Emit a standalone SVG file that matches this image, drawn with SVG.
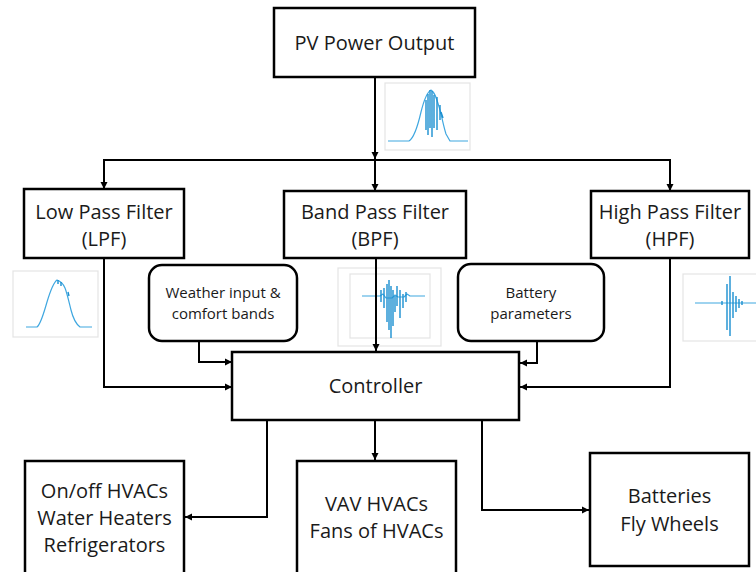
<svg xmlns="http://www.w3.org/2000/svg" width="756" height="572" viewBox="0 0 756 572">
<defs>
<marker id="ah" markerWidth="8" markerHeight="8" refX="7" refY="4" orient="auto" markerUnits="userSpaceOnUse">
<path d="M0,0.5 L7,4 L0,7.5 Z" fill="#000"/>
</marker>
<style>
.box{fill:#fff;stroke:#000;stroke-width:2.5}
.t{font-family:"Open Sans","Noto Sans","Liberation Sans",sans-serif;font-size:20px;fill:#1a1a1a;text-anchor:middle}
.s{font-family:"Open Sans","Noto Sans","Liberation Sans",sans-serif;font-size:15px;fill:#1a1a1a;text-anchor:middle}
.c{fill:none;stroke:#000;stroke-width:2;marker-end:url(#ah)}
.fr{fill:#fff;stroke:#e4e4e4;stroke-width:1.2}
.w{fill:none;stroke:#3fa7e0;stroke-width:1.2;stroke-linejoin:round}
.wd{fill:none;stroke:#1a8fd0;stroke-width:1.4}
</style>
</defs>
<rect width="756" height="572" fill="#fff"/>

<g id="pv-plot">
<rect class="fr" x="385" y="83" width="85" height="67"/>
<path class="w" d="M388,141 H409 C414,138 418,125 421,112 C424,100 427,92 431,90 C435,92 437,100 440,110 C442,118 444,128 446,134 L450,141 H468"/>
<path class="wd" d="M426,100 V130 M428,94 V135 M430,90 V128 M432,91 V137 M434,95 V128 M437,97 V130 M440,105 V120 M441,112 L443,118"/>
</g>
<g id="lpf-plot">
<rect class="fr" x="13" y="271" width="85" height="66"/>
<path class="w" d="M26,327 H37 C41,324 44,312 47,302 C50,292 53,283 57,280 C60,281 63,283 65,288 C67,293 69,302 71,310 C73,318 76,324 80,327 H92"/>
<path class="wd" d="M58,280 L58,284 M61,282 L61,286 M68,292 L69,296"/>
</g>
<g id="bpf-plot">
<rect class="fr" x="338" y="268" width="103" height="78"/>
<rect class="fr" x="350" y="274" width="80" height="64"/>
<path class="w" d="M362,296 H380 L383,294 L386,298 H392 L395,295 L398,297 H404 L407,294 L410,296 H425"/>
<path class="wd" d="M381,290 V302 M384,288 V308 M387,284 V322 M389,280 V330 M391,286 V338 M393,290 V326 M395,296 V312 M397,286 V306 M400,290 V318 M403,294 V308 M406,292 V302"/>
</g>
<g id="hpf-plot">
<rect class="fr" x="683" y="274" width="80" height="67"/>
<path class="w" d="M695,303 H756"/>
<path class="wd" d="M722,301 V305 M727,284 V330 M730,276 V336 M733,292 V318 M736,296 V312 M739,299 V308 M742,301 V305"/>
</g>

<g id="connectors">
<path class="c" d="M375,77 V159"/>
<path class="c" d="M375,160 H104 V189"/>
<path class="c" d="M375,160 H670 V191"/>
<path class="c" d="M375,160 V191"/>
<path class="c" d="M104,258 V387 H232"/>
<path class="c" d="M199,341 V362 H232"/>
<path class="c" d="M376,258 V351"/>
<path class="c" d="M537,341 V363 H520"/>
<path class="c" d="M670,258 V387 H520"/>
<path class="c" d="M267,421 V517 H185"/>
<path class="c" d="M375,421 V460"/>
<path class="c" d="M482,421 V510 H589"/>
</g>

<g id="pv">
<rect class="box" x="274" y="8" width="201" height="69"/>
<text class="t" x="374.5" y="50">PV Power Output</text>
</g>

<g id="lpf">
<rect class="box" x="24" y="189" width="160" height="69"/>
<text class="t" x="104" y="219">Low Pass Filter</text>
<text class="t" x="104" y="246">(LPF)</text>
</g>

<g id="bpf">
<rect class="box" x="284" y="191" width="182" height="67"/>
<text class="t" x="375" y="219">Band Pass Filter</text>
<text class="t" x="375" y="246">(BPF)</text>
</g>

<g id="hpf">
<rect class="box" x="591" y="191" width="158" height="67"/>
<text class="t" x="670" y="219">High Pass Filter</text>
<text class="t" x="670" y="246">(HPF)</text>
</g>

<g id="weather">
<rect class="box" x="149" y="265" width="148" height="76" rx="13"/>
<text class="s" x="223" y="298">Weather input &amp;</text>
<text class="s" x="223" y="319">comfort bands</text>
</g>

<g id="battery-params">
<rect class="box" x="458" y="264" width="146" height="77" rx="13"/>
<text class="s" x="531" y="298">Battery</text>
<text class="s" x="531" y="319">parameters</text>
</g>

<g id="controller">
<rect class="box" x="232" y="352" width="287" height="68"/>
<text class="t" x="375.5" y="393">Controller</text>
</g>

<g id="onoff">
<rect class="box" x="25" y="461" width="159" height="120"/>
<text class="t" x="104.5" y="498">On/off HVACs</text>
<text class="t" x="104.5" y="525">Water Heaters</text>
<text class="t" x="104.5" y="552">Refrigerators</text>
</g>

<g id="vav">
<rect class="box" x="297" y="461" width="159" height="120"/>
<text class="t" x="376.5" y="511">VAV HVACs</text>
<text class="t" x="376.5" y="538">Fans of HVACs</text>
</g>

<g id="batteries">
<rect class="box" x="590" y="453" width="159" height="113"/>
<text class="t" x="669.5" y="503">Batteries</text>
<text class="t" x="669.5" y="531">Fly Wheels</text>
</g>
</svg>
